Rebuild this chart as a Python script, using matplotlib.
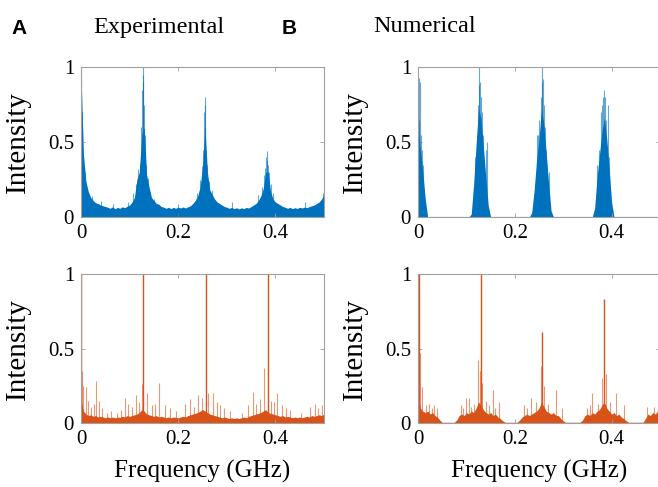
import numpy as np
import matplotlib
matplotlib.use('Agg')
import matplotlib.pyplot as plt

plt.rcParams['font.family'] = ['Liberation Serif', 'DejaVu Serif']

blue = '#0072BD'
orange = '#D95319'
serif = ['Liberation Serif', 'DejaVu Serif']

# frequency grid of the spectrum envelopes (GHz)
freq = np.arange(0, 0.5001, 0.005)

# experimental, top panel: body of the spectrum
exp_top_body = [0.95, 0.42, 0.24, 0.17, 0.13, 0.11, 0.095, 0.09, 0.08, 0.075,
                0.07, 0.065, 0.058, 0.068, 0.055, 0.064, 0.058, 0.068, 0.062, 0.072,
                0.08, 0.10, 0.13, 0.25, 0.30, 0.55, 0.60, 0.28, 0.20, 0.13,
                0.11, 0.09, 0.085, 0.07, 0.066, 0.058, 0.065, 0.056, 0.064, 0.058,
                0.066, 0.06, 0.067, 0.06, 0.068, 0.075, 0.09, 0.11, 0.14, 0.20,
                0.33, 0.60, 0.30, 0.18, 0.15, 0.12, 0.10, 0.09, 0.08, 0.07,
                0.065, 0.058, 0.064, 0.055, 0.062, 0.054, 0.061, 0.056, 0.064, 0.06,
                0.07, 0.08, 0.09, 0.11, 0.14, 0.19, 0.30, 0.30, 0.17, 0.12,
                0.10, 0.09, 0.08, 0.07, 0.065, 0.058, 0.064, 0.056, 0.062, 0.057,
                0.065, 0.06, 0.066, 0.062, 0.07, 0.075, 0.08, 0.09, 0.10, 0.12,
                0.15]
exp_top_spike_f = [0.0, 0.001, 0.002, 0.003, 0.008, 0.022, 0.041, 0.066, 0.097,
                   0.108, 0.114, 0.118, 0.121, 0.124, 0.126, 0.127, 0.1275, 0.128,
                   0.129, 0.131, 0.134, 0.138, 0.143, 0.15, 0.2, 0.238, 0.244,
                   0.248, 0.252, 0.254, 0.2545, 0.255, 0.256, 0.258, 0.26, 0.264,
                   0.269, 0.31, 0.365, 0.372, 0.377, 0.379, 0.381, 0.382, 0.383,
                   0.385, 0.387, 0.39, 0.395, 0.46, 0.497]
exp_top_spike_h = [1.0, 0.9, 0.7, 0.6, 0.3, 0.14, 0.11, 0.09, 0.1,
                   0.16, 0.22, 0.32, 0.36, 0.6, 0.85, 1.0, 0.95, 0.9,
                   0.75, 0.55, 0.35, 0.26, 0.17, 0.12, 0.09, 0.16, 0.25,
                   0.34, 0.45, 0.7, 0.8, 0.75, 0.6, 0.45, 0.35, 0.24,
                   0.18, 0.1, 0.15, 0.2, 0.28, 0.33, 0.4, 0.44, 0.38,
                   0.35, 0.3, 0.22, 0.16, 0.1, 0.16]

# numerical, top panel
num_top_body = [0.60, 0.45, 0.30, 0.12, 0.0, 0.0, 0.0, 0.0, 0.0, 0.0,
                0.0, 0.0, 0.0, 0.0, 0.0, 0.0, 0.0, 0.0, 0.0, 0.0,
                0.0, 0.0, 0.02, 0.22, 0.48, 0.72, 0.66, 0.47, 0.27, 0.08,
                0.0, 0.0, 0.0, 0.0, 0.0, 0.0, 0.0, 0.0, 0.0, 0.0,
                0.0, 0.0, 0.0, 0.0, 0.0, 0.0, 0.0, 0.03, 0.18, 0.38,
                0.52, 0.72, 0.62, 0.42, 0.22, 0.04, 0.0, 0.0, 0.0, 0.0,
                0.0, 0.0, 0.0, 0.0, 0.0, 0.0, 0.0, 0.0, 0.0, 0.0,
                0.0, 0.0, 0.0, 0.06, 0.27, 0.42, 0.57, 0.66, 0.52, 0.32,
                0.10, 0.0, 0.0, 0.0, 0.0, 0.0, 0.0, 0.0, 0.0, 0.0,
                0.0, 0.0, 0.0, 0.0, 0.0, 0.0, 0.0, 0.0, 0.0, 0.0,
                0.12]
num_top_spike_f = [0.0, 0.002, 0.003, 0.004, 0.006, 0.008, 0.011,
                   0.118, 0.122, 0.124, 0.126, 0.127, 0.128, 0.13, 0.132, 0.135, 0.14, 0.143,
                   0.245, 0.248, 0.251, 0.254, 0.256, 0.257, 0.258, 0.26, 0.262, 0.265, 0.27,
                   0.37, 0.374, 0.378, 0.381, 0.383, 0.385, 0.387, 0.389, 0.392, 0.395]
num_top_spike_h = [0.72, 0.93, 0.65, 0.9, 0.55, 0.45, 0.35,
                   0.40, 0.55, 0.75, 0.88, 1.0, 0.9, 0.8, 0.7, 0.55, 0.45, 0.5,
                   0.55, 0.55, 0.65, 0.8, 0.9, 1.0, 0.92, 0.75, 0.6, 0.45, 0.3,
                   0.35, 0.45, 0.7, 0.75, 0.8, 0.85, 0.8, 0.65, 0.75, 0.4]

# experimental, bottom panel
exp_bot_body = [0.15, 0.08, 0.06, 0.05, 0.055, 0.045, 0.05, 0.04, 0.045, 0.04,
                0.035, 0.04, 0.035, 0.04, 0.035, 0.04, 0.038, 0.045, 0.04, 0.05,
                0.045, 0.05, 0.055, 0.06, 0.07, 0.09, 0.08, 0.06, 0.055, 0.05,
                0.045, 0.05, 0.04, 0.045, 0.04, 0.035, 0.04, 0.035, 0.04, 0.038,
                0.035, 0.04, 0.045, 0.04, 0.05, 0.055, 0.06, 0.065, 0.07, 0.08,
                0.09, 0.08, 0.07, 0.06, 0.055, 0.05, 0.045, 0.04, 0.035, 0.04,
                0.035, 0.03, 0.035, 0.03, 0.035, 0.03, 0.035, 0.04, 0.035, 0.045,
                0.05, 0.055, 0.06, 0.065, 0.07, 0.08, 0.09, 0.07, 0.065, 0.06,
                0.055, 0.05, 0.045, 0.05, 0.04, 0.045, 0.04, 0.035, 0.04, 0.035,
                0.04, 0.035, 0.04, 0.045, 0.04, 0.05, 0.045, 0.05, 0.055, 0.05,
                0.06]
exp_bot_spike_f = [0.0014, 0.005, 0.0103, 0.015, 0.021, 0.026, 0.031, 0.0377,
                   0.044, 0.0528, 0.061, 0.0748, 0.083, 0.0905, 0.0974, 0.104,
                   0.113, 0.119, 0.1248, 0.1365, 0.1454, 0.152, 0.1605, 0.1728,
                   0.183, 0.196, 0.214, 0.2243, 0.232, 0.2414, 0.2483, 0.262,
                   0.2723, 0.279, 0.286, 0.295, 0.3066, 0.3306, 0.343, 0.3532,
                   0.361, 0.3683, 0.3765, 0.391, 0.397, 0.4026, 0.4129, 0.421,
                   0.43, 0.452, 0.4712, 0.4815, 0.4885, 0.4952]
exp_bot_spike_h = [0.35, 0.25, 0.24, 0.15, 0.11, 0.13, 0.28, 0.15,
                   0.1, 0.07, 0.08, 0.07, 0.09, 0.17, 0.13, 0.11,
                   0.19, 0.14, 0.26, 0.2, 0.12, 0.13, 0.27, 0.12,
                   0.1, 0.08, 0.13, 0.16, 0.11, 0.19, 0.17, 0.2,
                   0.2, 0.14, 0.12, 0.1, 0.08, 0.07, 0.12, 0.21,
                   0.13, 0.16, 0.37, 0.15, 0.14, 0.2, 0.12, 0.1,
                   0.09, 0.07, 0.11, 0.13, 0.1, 0.12]
exp_bot_peak_f = [0.0, 0.128, 0.2565, 0.3855]
exp_bot_peak_h = [1.0, 1.0, 1.0, 1.0]

# numerical, bottom panel
num_bot_body = [0.18, 0.10, 0.08, 0.07, 0.08, 0.06, 0.07, 0.05, 0.04, 0.02,
                0.005, 0.005, 0.005, 0.005, 0.005, 0.005, 0.02, 0.05, 0.06, 0.05,
                0.07, 0.06, 0.08, 0.07, 0.10, 0.14, 0.12, 0.09, 0.07, 0.06,
                0.07, 0.05, 0.06, 0.04, 0.03, 0.015, 0.005, 0.005, 0.005, 0.005,
                0.005, 0.005, 0.02, 0.04, 0.05, 0.06, 0.05, 0.06, 0.07, 0.08,
                0.10, 0.14, 0.11, 0.08, 0.07, 0.06, 0.07, 0.05, 0.05, 0.03,
                0.015, 0.005, 0.005, 0.005, 0.005, 0.005, 0.005, 0.005, 0.02, 0.05,
                0.06, 0.05, 0.07, 0.06, 0.08, 0.09, 0.12, 0.14, 0.10, 0.08,
                0.06, 0.07, 0.05, 0.06, 0.04, 0.03, 0.015, 0.005, 0.005, 0.005,
                0.005, 0.005, 0.005, 0.005, 0.03, 0.06, 0.05, 0.07, 0.06, 0.08,
                0.07]
num_bot_spike_f = [0.004, 0.009, 0.0158, 0.0227, 0.028, 0.033, 0.04, 0.088,
                   0.093, 0.0985, 0.1054, 0.11, 0.1157, 0.1246, 0.1274, 0.1315,
                   0.1398, 0.147, 0.1549, 0.16, 0.1673, 0.219, 0.226, 0.2327,
                   0.243, 0.2534, 0.2603, 0.268, 0.2844, 0.2982, 0.3499, 0.355,
                   0.3602, 0.372, 0.3809, 0.3891, 0.396, 0.4084, 0.4256, 0.4738,
                   0.4876, 0.495]
num_bot_spike_h = [0.47, 0.24, 0.12, 0.13, 0.1, 0.12, 0.1, 0.12,
                   0.1, 0.17, 0.17, 0.11, 0.13, 0.42, 0.35, 0.27,
                   0.15, 0.12, 0.22, 0.1, 0.14, 0.12, 0.1, 0.17,
                   0.14, 0.38, 0.25, 0.13, 0.22, 0.1, 0.1, 0.12,
                   0.2, 0.13, 0.3, 0.33, 0.14, 0.2, 0.12, 0.11,
                   0.11, 0.1]
num_bot_peak_f = [0.0014, 0.1295, 0.2568, 0.385]
num_bot_peak_h = [1.0, 1.0, 0.61, 0.83]

xticks = [0, 0.2, 0.4]
xticklabels = ['0', '0.2', '0.4']
yticks = [0, 0.5, 1]
yticklabels = ['0', '0.5', '1']

W, H = 658, 487
fig = plt.figure(figsize=(W / 100, H / 100), dpi=100)


def make_ax(x0, y0, x1, y1):
    # pixel box -> figure fraction
    return fig.add_axes([x0 / W, 1 - y1 / H, (x1 - x0) / W, (y1 - y0) / H])


def style(ax):
    ax.set_xlim(0, 0.5)
    ax.set_ylim(0, 1)
    ax.set_xticks(xticks)
    ax.set_xticklabels(xticklabels, family=serif)
    ax.set_yticks(yticks)
    ax.set_yticklabels(yticklabels, family=serif)
    ax.tick_params(direction='in', length=3, width=0.6, color='#a0a0a0',
                   labelsize=15, top=True, right=True, pad=5)
    for s in ax.spines.values():
        s.set_color('#a0a0a0')
        s.set_linewidth(0.8)
    ax.set_ylabel('Intensity', fontsize=21, labelpad=12, family=serif)


def draw(ax, body, sf, sh, color, pf=None, ph=None):
    ax.fill_between(freq, 0, body, color=color, lw=0)
    ax.vlines(sf, 0, sh, color=color, lw=0.8, alpha=0.6)
    if pf is not None:
        ax.vlines(pf, 0, ph, color=color, lw=1.0)


ax1 = make_ax(81, 67, 324, 217)
draw(ax1, exp_top_body, exp_top_spike_f, exp_top_spike_h, blue)
style(ax1)

ax2 = make_ax(418, 67, 660, 217)
draw(ax2, num_top_body, num_top_spike_f, num_top_spike_h, blue)
ax2.axhline(0.003, color=blue, lw=0.8)
style(ax2)

ax3 = make_ax(81, 274, 324, 423)
draw(ax3, exp_bot_body, exp_bot_spike_f, exp_bot_spike_h, orange,
     exp_bot_peak_f, exp_bot_peak_h)
style(ax3)
ax3.set_xlabel('Frequency (GHz)', fontsize=18, labelpad=8, family=serif)

ax4 = make_ax(418, 274, 660, 423)
draw(ax4, num_bot_body, num_bot_spike_f, num_bot_spike_h, orange,
     num_bot_peak_f, num_bot_peak_h)
style(ax4)
ax4.set_xlabel('Frequency (GHz)', fontsize=18, labelpad=8, family=serif)

fig.text(159 / W, 1 - 27 / H, 'Experimental', fontsize=17.5, ha='center', va='center',
         family=serif)
fig.text(425 / W, 1 - 27 / H, 'Numerical', fontsize=17.5, ha='center', va='center',
         family=serif)
fig.text(19 / W, 1 - 29 / H, 'A', fontsize=15, fontweight='bold',
         family=['Liberation Sans', 'DejaVu Sans'], ha='center', va='center')
fig.text(289 / W, 1 - 29 / H, 'B', fontsize=15, fontweight='bold',
         family=['Liberation Sans', 'DejaVu Sans'], ha='center', va='center')

fig.savefig('out.png', dpi=100)
